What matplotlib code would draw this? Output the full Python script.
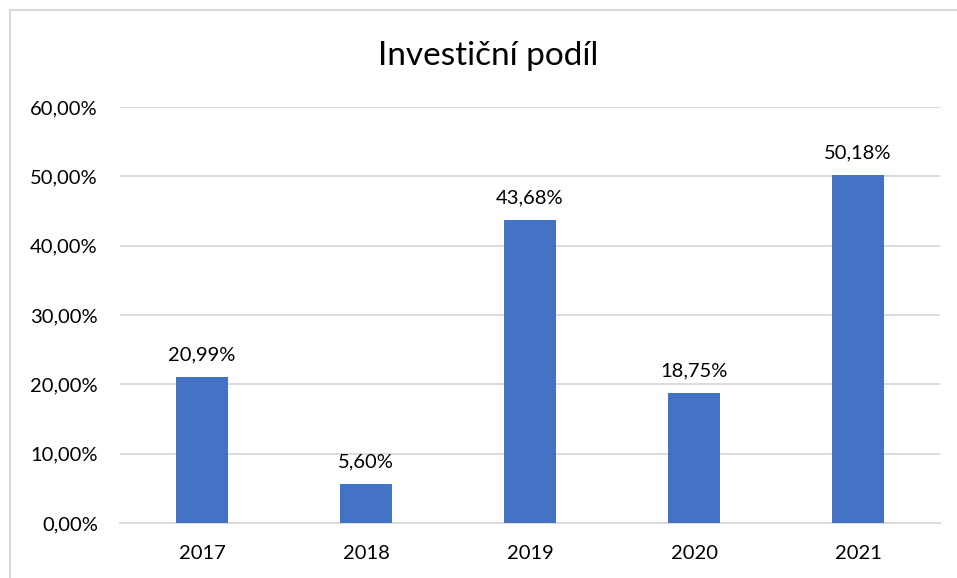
import matplotlib.pyplot as plt
from matplotlib.patches import Rectangle
from matplotlib.ticker import FuncFormatter

years = ['2017', '2018', '2019', '2020', '2021']
shares = [20.99, 5.60, 43.68, 18.75, 50.18]
y_ticks = [0, 10, 20, 30, 40, 50, 60]


def cz_pct(v, _=None):
    return f"{v:.2f}%".replace('.', ',')


plt.rcParams['font.family'] = ['Lato', 'DejaVu Sans']

fig = plt.figure(figsize=(9.57, 5.78), dpi=100)
# chart frame (right and bottom edges run off the image)
fig.patches.append(Rectangle((9.5 / 957, -0.05), 1.0, 1 - 9.5 / 578 + 0.05,
                             transform=fig.transFigure, fill=False,
                             edgecolor='#D9D9D9', linewidth=1.5))

ax = fig.add_axes([120 / 957, 55 / 578, 820 / 957, 416 / 578])
x = range(len(years))
bars = ax.bar(x, shares, width=0.317, color='#4472C4', zorder=3)

for b, v in zip(bars, shares):
    ax.text(b.get_x() + b.get_width() / 2, v + 2.0, cz_pct(v),
            ha='center', va='bottom', fontsize=14.5, color='#000000')

ax.set_xlim(-0.5, len(years) - 0.5)
ax.set_ylim(0, 60)
ax.set_yticks(y_ticks)
ax.yaxis.set_major_formatter(FuncFormatter(cz_pct))
ax.set_xticks(list(x))
ax.set_xticklabels(years)
ax.grid(axis='y', color='#D9D9D9', linewidth=1.3, zorder=0)
ax.tick_params(axis='both', length=0, labelsize=14.5, colors='#000000')
ax.tick_params(axis='y', pad=16)
ax.tick_params(axis='x', pad=16)

for side in ['left', 'right', 'top']:
    ax.spines[side].set_visible(False)
ax.spines['bottom'].set_color('#D9D9D9')
ax.spines['bottom'].set_linewidth(1.3)

fig.text(488 / 957, 513 / 578, 'Investiční podíl', ha='center', va='baseline', fontsize=24)

fig.savefig('out.png', dpi=100)
